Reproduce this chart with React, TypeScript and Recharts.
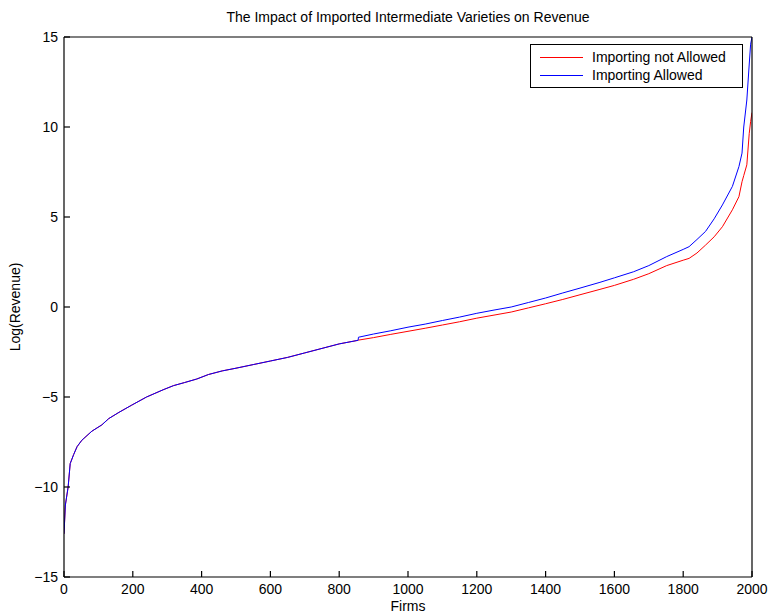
import React from "react";
import { LineChart, Line, XAxis, YAxis, Legend } from "recharts";

// Firms (sorted) where both scenarios coincide
const commonFirms = [0, 4, 12, 18, 28, 38, 52, 81, 110, 130, 160, 197, 240, 288, 318, 350, 386, 420, 460, 500, 550, 600, 650, 700, 750, 800, 855];
const commonRevenue = [-12.6, -11.0, -10.0, -8.7, -8.2, -7.76, -7.4, -6.9, -6.55, -6.2, -5.85, -5.45, -5.0, -4.6, -4.37, -4.2, -4.0, -3.75, -3.55, -3.4, -3.2, -3.0, -2.8, -2.55, -2.3, -2.05, -1.85];

// Firms after the split
const splitFirms = [856, 900, 950, 1000, 1050, 1100, 1150, 1200, 1250, 1300, 1350, 1400, 1450, 1500, 1558, 1600, 1656, 1700, 1752, 1800, 1817, 1840, 1865, 1890, 1914, 1943, 1962, 1971, 1976, 1985, 1992, 1996, 2000];
const notAllowedRevenue = [-1.84, -1.7, -1.52, -1.35, -1.18, -1.0, -0.82, -0.62, -0.45, -0.28, -0.05, 0.18, 0.42, 0.68, 0.98, 1.2, 1.54, 1.85, 2.3, 2.6, 2.7, 3.0, 3.44, 3.9, 4.46, 5.4, 6.13, 6.96, 7.3, 7.9, 9.65, 10.3, 10.8];
const allowedRevenue = [-1.68, -1.5, -1.32, -1.12, -0.95, -0.75, -0.56, -0.35, -0.17, 0.0, 0.25, 0.5, 0.78, 1.05, 1.37, 1.62, 1.96, 2.3, 2.8, 3.2, 3.35, 3.75, 4.2, 4.9, 5.67, 6.7, 7.8, 8.55, 10.0, 11.5, 13.5, 14.6, 15.0];

const xTicks = [0, 200, 400, 600, 800, 1000, 1200, 1400, 1600, 1800, 2000];
const yTicks = [-15, -10, -5, 0, 5, 10, 15];

const seriesNames = ["Importing not Allowed", "Importing Allowed"];
const seriesColors = ["#ff0000", "#0000ff"];

const build = (vals: number[]) =>
  commonFirms.map((f, i) => ({ firm: f, rev: commonRevenue[i] })).concat(
    splitFirms.map((f, i) => ({ firm: f, rev: vals[i] }))
  );

const redData = build(notAllowedRevenue);
const blueData = build(allowedRevenue);

const FONT = "'Liberation Sans', Arial, Helvetica, sans-serif";
const TICK_LEN = 6;

const fmt = (v: number) => (v < 0 ? `\u2212${Math.abs(v)}` : `${v}`);

const BottomTick = (props: any) => {
  const { x, y, payload } = props;
  return (
    <g>
      <path d={`M${x},${y}V${y - TICK_LEN}`} stroke="#000" strokeWidth={1.2} fill="none" />
      <text x={x} y={y + 7} dy="0.71em" textAnchor="middle" fontSize={14} fontFamily={FONT} fill="#000">
        {fmt(payload.value)}
      </text>
    </g>
  );
};

const LeftTick = (props: any) => {
  const { x, y, payload } = props;
  return (
    <g>
      <path d={`M${x},${y}H${x + TICK_LEN}`} stroke="#000" strokeWidth={1.2} fill="none" />
      <text x={x - 6} y={y} dy="0.355em" textAnchor="end" fontSize={14} fontFamily={FONT} fill="#000">
        {fmt(payload.value)}
      </text>
    </g>
  );
};

const TopTick = (props: any) => {
  const { x, y } = props;
  return <path d={`M${x},${y}V${y + TICK_LEN}`} stroke="#000" strokeWidth={1.2} fill="none" />;
};

const RightTick = (props: any) => {
  const { x, y } = props;
  return <path d={`M${x},${y}H${x - TICK_LEN}`} stroke="#000" strokeWidth={1.2} fill="none" />;
};

const LegendBox = () => (
  <div
    style={{
      border: "1px solid #000",
      background: "#fff",
      width: 211,
      height: 37,
      paddingTop: 3,
      paddingBottom: 2,
      fontFamily: FONT,
      fontSize: 14,
      color: "#000",
    }}
  >
    {seriesNames.map((name, i) => (
      <div key={name} style={{ display: "flex", alignItems: "center", height: 18 }}>
        <div style={{ marginLeft: 9, width: 43, height: 0, borderTop: `1px solid ${seriesColors[i]}` }} />
        <span style={{ marginLeft: 9, lineHeight: "18px", whiteSpace: "nowrap" }}>{name}</span>
      </div>
    ))}
  </div>
);

export default function App() {
  return (
    <div style={{ width: 768, height: 615, position: "relative", fontFamily: FONT }}>
      <style>{"html,body{margin:0;padding:0;overflow:hidden}svg.recharts-surface{overflow:visible}"}</style>
      <LineChart
        width={768}
        height={615}
        margin={{ top: 36, right: 15, bottom: 0, left: 0 }}
      >
        <XAxis
          xAxisId="b"
          dataKey="firm"
          type="number"
          domain={[0, 2000]}
          ticks={xTicks}
          allowDataOverflow
          height={38}
          tickSize={0}
          tickMargin={0}
          tickLine={false}
          interval={0}
          tick={<BottomTick />}
          axisLine={{ stroke: "#000", strokeWidth: 1.2 }}
        />
        <XAxis
          xAxisId="t"
          orientation="top"
          dataKey="firm"
          type="number"
          domain={[0, 2000]}
          ticks={xTicks}
          interval={0}
          height={1}
          tickSize={0}
          tickMargin={0}
          tickLine={false}
          tick={<TopTick />}
          axisLine={{ stroke: "#000", strokeWidth: 1.2 }}
        />
        <YAxis
          yAxisId="l"
          type="number"
          domain={[-15, 15]}
          ticks={yTicks}
          interval={0}
          allowDataOverflow
          width={64}
          tickSize={0}
          tickMargin={0}
          tickLine={false}
          tick={<LeftTick />}
          axisLine={{ stroke: "#000", strokeWidth: 1.2 }}
        />
        <YAxis
          yAxisId="r"
          orientation="right"
          type="number"
          domain={[-15, 15]}
          ticks={yTicks}
          interval={0}
          width={1}
          tickSize={0}
          tickMargin={0}
          tickLine={false}
          tick={<RightTick />}
          axisLine={{ stroke: "#000", strokeWidth: 1.2 }}
        />
        <Legend
          layout="horizontal"
          verticalAlign="middle"
          align="center"
          content={<LegendBox />}
          wrapperStyle={{ top: 44, left: 530, width: 213, height: 43 }}
        />
        <Line
          xAxisId="b"
          yAxisId="l"
          data={redData}
          dataKey="rev"
          name={seriesNames[0]}
          stroke={seriesColors[0]}
          strokeWidth={1}
          dot={false}
          activeDot={false}
          isAnimationActive={false}
        />
        <Line
          xAxisId="b"
          yAxisId="l"
          data={blueData}
          dataKey="rev"
          name={seriesNames[1]}
          stroke={seriesColors[1]}
          strokeWidth={1}
          dot={false}
          activeDot={false}
          isAnimationActive={false}
        />
        <text x={408} y={22} textAnchor="middle" fontSize={14} fontFamily={FONT} fill="#000">
          The Impact of Imported Intermediate Varieties on Revenue
        </text>
        <text x={408} y={611} textAnchor="middle" fontSize={14} fontFamily={FONT} fill="#000">
          Firms
        </text>
        <text
          x={20}
          y={307}
          textAnchor="middle"
          fontSize={14}
          fontFamily={FONT}
          fill="#000"
          transform="rotate(-90 20 307)"
        >
          Log(Revenue)
        </text>
      </LineChart>
    </div>
  );
}
